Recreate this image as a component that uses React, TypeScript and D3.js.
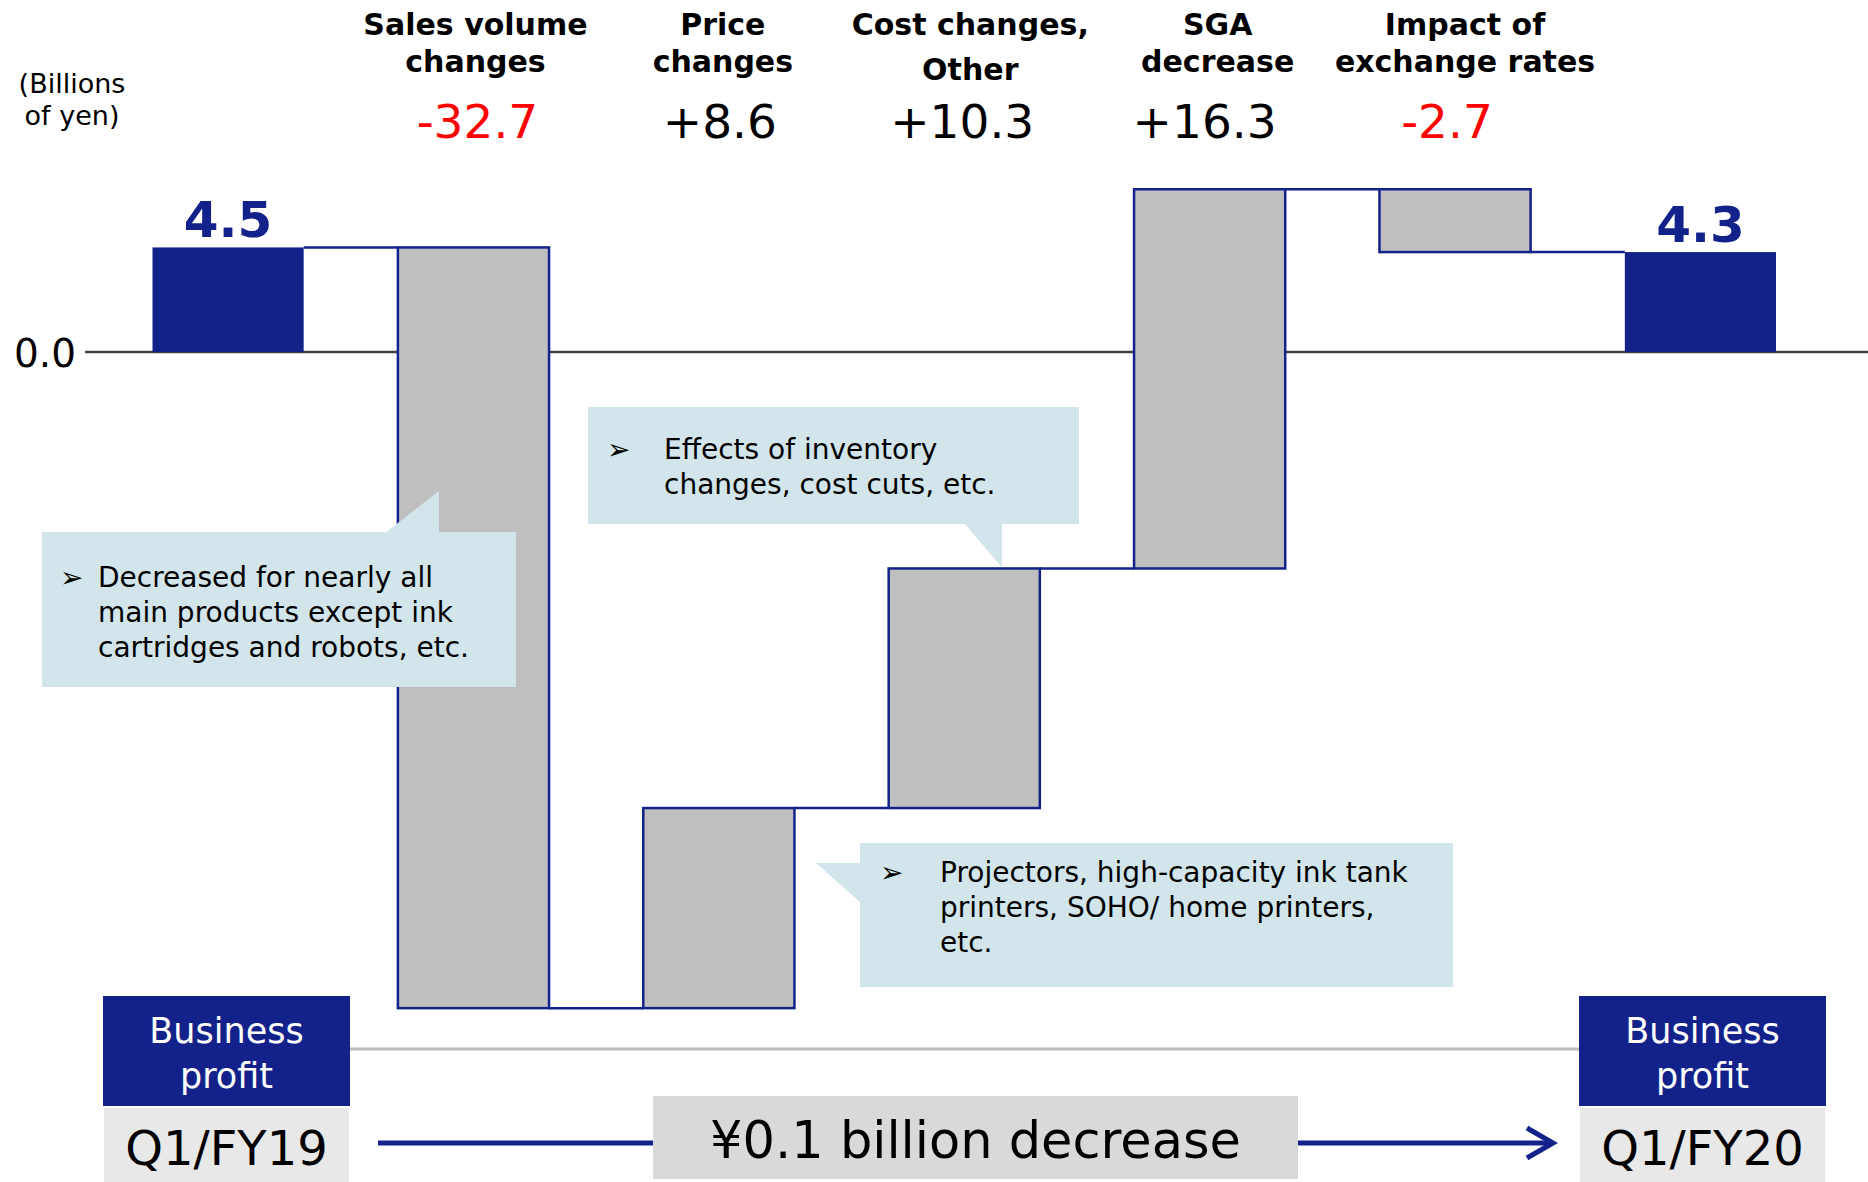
import React from "react";
import * as d3 from "d3";

// ---------- data ----------
const categories = [
  "Q1/FY19",
  "Sales volume changes",
  "Price changes",
  "Cost changes, Other",
  "SGA decrease",
  "Impact of exchange rates",
  "Q1/FY20",
];
const startTotal = 4.5;
const endTotal = 4.3;
const changeValues = [-32.7, 8.6, 10.3, 16.3, -2.7];
const headerLines = [
  ["Sales volume", "changes"],
  ["Price", "changes"],
  ["Cost changes,", "Other"],
  ["SGA", "decrease"],
  ["Impact of", "exchange rates"],
];
const yTicks = [0];
const unitLabel = ["(Billions", "of yen)"];
const boxTitle = ["Business", "profit"];
const periodLabels = ["Q1/FY19", "Q1/FY20"];
const summaryText = "¥0.1 billion decrease";
const callout1 = ["Decreased for nearly all", "main products except ink", "cartridges and robots, etc."];
const callout2 = ["Effects of inventory", "changes, cost cuts, etc."];
const callout3 = ["Projectors, high-capacity ink tank", "printers, SOHO/ home printers,", "etc."];

// ---------- style ----------
const W = 1868;
const H = 1182;
const NAVY = "#13228b";
const GRAY = "#bfbfbf";
const CALLOUT = "#d1e5ea";
const RED = "#ff0000";
const FONT = "'DejaVu Sans', Verdana, sans-serif";

type Bar = { cat: string; y0: number; y1: number; kind: "total" | "delta"; value: number };

function buildBars(): Bar[] {
  const bars: Bar[] = [];
  bars.push({ cat: categories[0], y0: 0, y1: startTotal, kind: "total", value: startTotal });
  let cum = startTotal;
  changeValues.forEach((v, i) => {
    const y0 = cum;
    cum = +(cum + v).toFixed(4);
    bars.push({ cat: categories[i + 1], y0, y1: cum, kind: "delta", value: v });
  });
  bars.push({ cat: categories[categories.length - 1], y0: 0, y1: endTotal, kind: "total", value: endTotal });
  return bars;
}

const fmtDelta = (v: number) => (v > 0 ? "+" : "-") + d3.format(".1f")(Math.abs(v));

function Bullet({ x, y }: { x: number; y: number }) {
  return (
    <text x={x} y={y} fontSize={28} fontFamily={FONT} fill="#000">
      ➢
    </text>
  );
}

export default function App() {
  const bars = buildBars();
  const x = d3
    .scaleBand<string>()
    .domain(categories)
    .range([152.5, 1776])
    .paddingInner(0.384)
    .paddingOuter(0);
  const y = d3.scaleLinear().domain([-30, 8]).range([1050, 166]);
  const bw = x.bandwidth();

  const connectors = bars.slice(0, -1).map((b, i) => {
    const next = bars[i + 1];
    return { x1: (x(b.cat) as number) + bw, x2: x(next.cat) as number, yv: b.y1 };
  });

  const lineH = 35;

  return (
    <svg
      width={W}
      height={H}
      style={{ position: "absolute", left: 0, top: 0, display: "block", background: "#fff" }}
      fontFamily={FONT}
    >
      {/* unit label */}
      <text x={72} y={93} fontSize={27} textAnchor="middle" fill="#000">
        {unitLabel[0]}
      </text>
      <text x={72} y={125} fontSize={27} textAnchor="middle" fill="#000">
        {unitLabel[1]}
      </text>

      {/* headers and change values */}
      {bars
        .filter((b) => b.kind === "delta")
        .map((b, i) => {
          const cx = (x(b.cat) as number) + bw / 2;
          const lines = headerLines[i];
          const gap = lines[0].endsWith(",") ? 45 : 37;
          return (
            <g key={b.cat}>
              <text x={cx + 2 + i * 2} y={35} fontSize={30} fontWeight="bold" textAnchor="middle" fill="#000">
                {lines[0]}
              </text>
              <text x={cx + 2 + i * 2} y={35 + gap} fontSize={30} fontWeight="bold" textAnchor="middle" fill="#000">
                {lines[1]}
              </text>
              <text
                x={cx + 4 - i * 3}
                y={138}
                fontSize={47}
                textAnchor="middle"
                fill={b.value < 0 ? RED : "#000"}
              >
                {fmtDelta(b.value)}
              </text>
            </g>
          );
        })}

      {/* zero axis */}
      {yTicks.map((t) => (
        <g key={t}>
          <line x1={85} x2={W} y1={y(t)} y2={y(t)} stroke="#404040" strokeWidth={2.5} />
          <text x={14} y={y(t) + 15} fontSize={39} fill="#000">
            {d3.format(".1f")(t)}
          </text>
        </g>
      ))}

      {/* connectors */}
      {connectors.map((c, i) => (
        <line key={i} x1={c.x1} x2={c.x2} y1={y(c.yv)} y2={y(c.yv)} stroke={NAVY} strokeWidth={2.5} />
      ))}

      {/* bars */}
      {bars.map((b) => {
        const top = y(Math.max(b.y0, b.y1));
        const bot = y(Math.min(b.y0, b.y1));
        const bx = x(b.cat) as number;
        return b.kind === "total" ? (
          <g key={b.cat}>
            <rect x={bx} y={top} width={bw} height={bot - top} fill={NAVY} />
            <text
              x={bx + bw / 2}
              y={top - 10}
              fontSize={50}
              fontWeight="bold"
              textAnchor="middle"
              fill={NAVY}
            >
              {d3.format(".1f")(b.value)}
            </text>
          </g>
        ) : (
          <rect
            key={b.cat}
            x={bx}
            y={top}
            width={bw}
            height={bot - top}
            fill={GRAY}
            stroke={NAVY}
            strokeWidth={2.5}
          />
        );
      })}

      {/* callout 1 */}
      <g>
        <rect x={42} y={532} width={474} height={155} fill={CALLOUT} />
        <polygon points="385,533 439,491 439,533" fill={CALLOUT} />
        <Bullet x={60} y={587} />
        {callout1.map((t, i) => (
          <text key={i} x={98} y={587 + i * lineH} fontSize={28} fill="#000">
            {t}
          </text>
        ))}
      </g>

      {/* callout 2 */}
      <g>
        <rect x={588} y={407} width={491} height={117} fill={CALLOUT} />
        <polygon points={`964,523 1002,523 1002,${y(-9.3) - 1}`} fill={CALLOUT} />
        <Bullet x={607} y={459} />
        {callout2.map((t, i) => (
          <text key={i} x={664} y={459 + i * lineH} fontSize={28} fill="#000">
            {t}
          </text>
        ))}
      </g>

      {/* callout 3 */}
      <g>
        <rect x={860} y={843} width={593} height={144} fill={CALLOUT} />
        <polygon points="816,863 861,863 861,903" fill={CALLOUT} />
        <Bullet x={880} y={882} />
        {callout3.map((t, i) => (
          <text key={i} x={940} y={882 + i * lineH} fontSize={28} fill="#000">
            {t}
          </text>
        ))}
      </g>

      {/* bottom section */}
      <line x1={350} x2={1580} y1={1049} y2={1049} stroke="#bdbdbd" strokeWidth={3} />
      <line x1={378} x2={1550} y1={1143} y2={1143} stroke={NAVY} strokeWidth={5} />
      <polyline
        points="1527,1128 1553,1143 1527,1158"
        fill="none"
        stroke={NAVY}
        strokeWidth={5}
        strokeLinejoin="miter"
      />
      <rect x={653} y={1096} width={645} height={83} fill="#d9d9d9" />
      <text x={975.5} y={1158} fontSize={51} textAnchor="middle" fill="#000">
        {summaryText}
      </text>

      {[
        { x0: 103, label: periodLabels[0] },
        { x0: 1579, label: periodLabels[1] },
      ].map((b) => (
        <g key={b.label}>
          <rect x={b.x0} y={996} width={247} height={110} fill={NAVY} />
          <text x={b.x0 + 123.5} y={1043} fontSize={35} textAnchor="middle" fill="#fff">
            {boxTitle[0]}
          </text>
          <text x={b.x0 + 123.5} y={1088} fontSize={35} textAnchor="middle" fill="#fff">
            {boxTitle[1]}
          </text>
          <rect x={b.x0 + 1} y={1108} width={245} height={74} fill="#e8e8e8" />
          <text x={b.x0 + 123.5} y={1165} fontSize={48} textAnchor="middle" fill="#000">
            {b.label}
          </text>
        </g>
      ))}
    </svg>
  );
}
